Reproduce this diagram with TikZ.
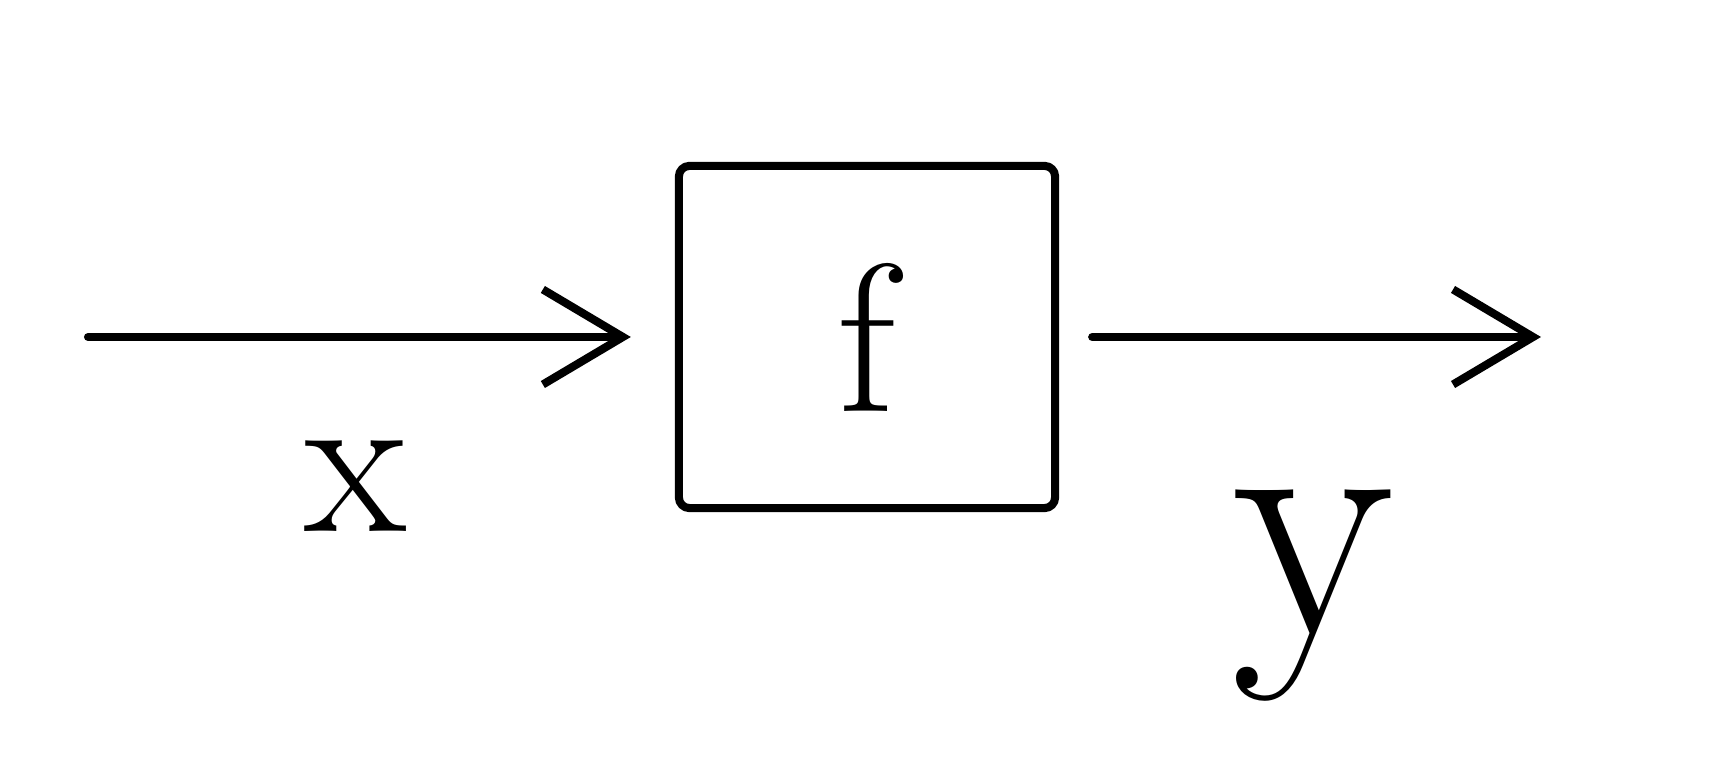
\documentclass[tikz,border=0pt]{standalone}
\usepackage{tikz}
\usetikzlibrary{positioning, arrows.meta}
\tikzset{
  ink/.style={line width=2.3pt, line cap=round, line join=round},
  fblock/.style={ink, draw, rectangle, rounded corners=3pt,
    minimum width=3.76cm, minimum height=3.42cm, font=\fontsize{60}{60}\selectfont},
  sym/.style={font=\fontsize{60}{60}\selectfont},
  conn/.style={ink, -{Straight Barb[length=0.8cm, width=0.95cm, line width=2.3pt]}},
}

\begin{document}
\begin{tikzpicture}[x=0.01cm, y=-0.01cm]
\useasboundingbox (0,0) rectangle (1732,762);

\node[fblock] (f) at (867,337) {f};
\coordinate (xin) at (88,337);
\coordinate (yout) at (1541,337);

\draw[conn, shorten >=0.44cm] (xin) -- (f.west);
\draw[conn, shorten <=0.33cm] (f.east) -- (yout);

\node[sym] (xlbl) at (356,486) {x};
\node[sym, font=\fontsize{95}{95}\selectfont] (ylbl) at (1314,596) {y};

\end{tikzpicture}
\end{document}
